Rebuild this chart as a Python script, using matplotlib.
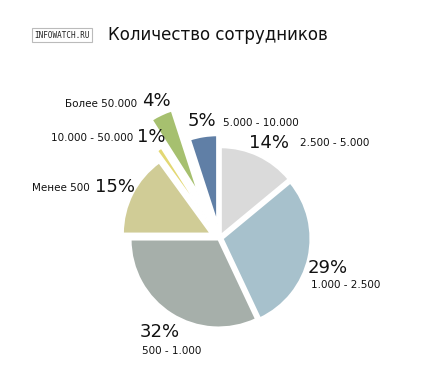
import matplotlib.pyplot as plt

# data
categories = ['2.500 - 5.000', '1.000 - 2.500', '500 - 1.000', 'Менее 500',
              '10.000 - 50.000', 'Более 50.000', '5.000 - 10.000']
shares = [14, 29, 32, 15, 1, 4, 5]
colors = ['#dadada', '#a7c1cc', '#a6afaa', '#d0cc96', '#e3d873', '#a6c06f', '#607fa6']
explode = [0.035, 0.035, 0.02, 0.11, 0.22, 0.55, 0.17]

W, H = 422, 379
R = 88
fig = plt.figure(figsize=(W / 100, H / 100), dpi=100)
ax = fig.add_axes([0, 0, 1, 1])

# explode in pie() is in data units, so scale by radius
ax.pie(shares, colors=colors, explode=[e * R for e in explode], startangle=90,
       counterclock=False, center=(219.5, H - 238), radius=R, frame=True,
       wedgeprops=dict(edgecolor='white', linewidth=1.5))
ax.set_xlim(0, W)
ax.set_ylim(0, H)
ax.set_aspect('equal')
ax.axis('off')

def px(x, y):
    return x, H - y

# label layout: (pct x, pct y, pct ha, cat x, cat y, cat ha)
label_pos = [
    (269, 143, 'center', 300, 143, 'left'),
    (328, 268, 'center', 311, 285, 'left'),
    (160, 332, 'center', 142, 351, 'left'),
    (115, 187, 'center', 90, 188, 'right'),
    (151, 137, 'center', 133, 138, 'right'),
    (156, 101, 'center', 137, 104, 'right'),
    (202, 121, 'center', 223, 123, 'left'),
]
for cat, val, (pxx, pyy, pha, cx, cy, cha) in zip(categories, shares, label_pos):
    ax.text(*px(pxx, pyy), f'{val}%', fontsize=13, ha=pha, va='center', color='#111111')
    ax.text(*px(cx, cy), cat, fontsize=7.5, ha=cha, va='center', color='#111111')

ax.text(*px(108, 35), 'Количество сотрудников', fontsize=12, ha='left', va='center',
        color='#111111')
ax.text(*px(62, 35), 'INFOWATCH.RU', fontsize=5.5, ha='center', va='center',
        family='DejaVu Sans Mono', color='#222222',
        bbox=dict(boxstyle='square,pad=0.3', fc='white', ec='#bbbbbb', lw=0.8))

fig.savefig('out.png', dpi=100)
plt.close(fig)
